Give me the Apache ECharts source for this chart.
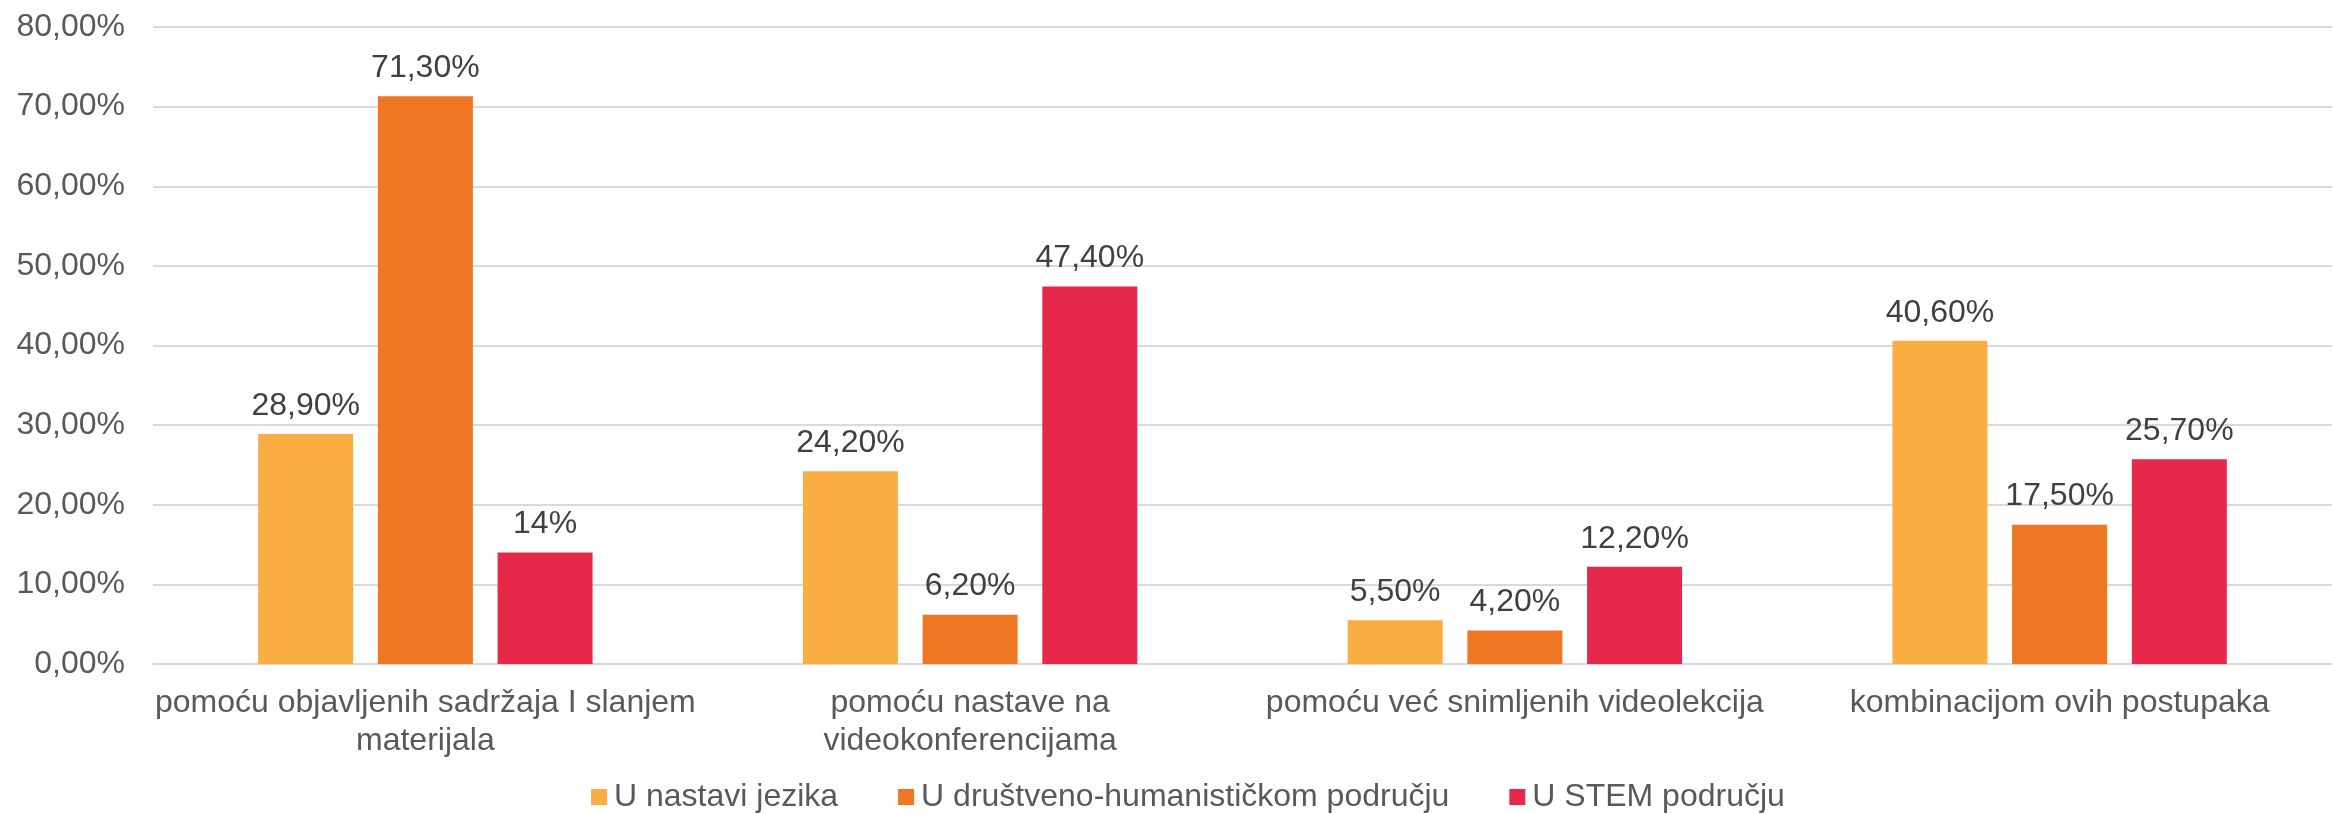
<!DOCTYPE html>
<html>
<head>
<meta charset="utf-8">
<script src="https://cdn.jsdelivr.net/npm/echarts@6/dist/echarts.min.js"></script>
<style>
  html, body { margin: 0; padding: 0; background: #fff; }
  #chart { width: 2334px; height: 814px; }
</style>
</head>
<body>
<div id="chart"></div>
<script>
const categories = [
  'pomoću objavljenih sadržaja I slanjem\nmaterijala',
  'pomoću nastave na\nvideokonferencijama',
  'pomoću već snimljenih videolekcija',
  'kombinacijom ovih postupaka'
]
const seriesNames = ['U nastavi jezika', 'U društveno-humanističkom području', 'U STEM području']
const jezika = [28.9, 24.2, 5.5, 40.6]
const drustveno = [71.3, 6.2, 4.2, 17.5]
const stem = [14, 47.4, 12.2, 25.7]
// labels as printed on the original chart (one is shown without decimals)
const jezikaLabels = ['28,90%', '24,20%', '5,50%', '40,60%']
const drustvenoLabels = ['71,30%', '6,20%', '4,20%', '17,50%']
const stemLabels = ['14%', '47,40%', '12,20%', '25,70%']

const colors = ['#FAAD43', '#EF7623', '#E6294A']
const font = '"Liberation Sans", Arial, sans-serif'

function makeSeries(name, data, labels, color) {
  return {
    name: name,
    type: 'bar',
    data: data,
    barWidth: 95,
    barGap: '26%',
    itemStyle: { color: color },
    label: {
      show: true,
      position: 'top',
      distance: 12,
      fontFamily: font,
      fontSize: 32,
      color: '#404040',
      formatter: (p) => labels[p.dataIndex]
    }
  }
}

const chart = echarts.init(document.getElementById('chart'))
chart.setOption({
  animation: false,
  color: colors,
  textStyle: { fontFamily: font },
  grid: {
    left: 153,
    right: 2,
    top: 27,
    bottom: 150
  },
  legend: {
    data: seriesNames,
    top: 776,
    left: 586,
    itemWidth: 16,
    itemHeight: 16,
    itemGap: 60,
    icon: 'rect',
    textStyle: {
      fontFamily: font,
      fontSize: 32,
      color: '#595959',
      padding: [0, 0, 0, 2]
    }
  },
  xAxis: {
    type: 'category',
    data: categories,
    axisLine: { lineStyle: { color: '#D9D9D9', width: 2 } },
    axisTick: { show: false },
    axisLabel: {
      fontFamily: font,
      fontSize: 32,
      lineHeight: 38,
      color: '#595959',
      margin: 20,
      interval: 0
    }
  },
  yAxis: {
    type: 'value',
    min: 0,
    max: 80,
    interval: 10,
    axisLine: { show: false },
    axisTick: { show: false },
    splitLine: { lineStyle: { color: '#D9D9D9', width: 2 } },
    axisLabel: {
      fontFamily: font,
      fontSize: 32,
      color: '#595959',
      margin: 28,
      formatter: (v) => v.toFixed(2).replace('.', ',') + '%'
    }
  },
  series: [
    makeSeries(seriesNames[0], jezika, jezikaLabels, colors[0]),
    makeSeries(seriesNames[1], drustveno, drustvenoLabels, colors[1]),
    makeSeries(seriesNames[2], stem, stemLabels, colors[2])
  ]
})
</script>
</body>
</html>
